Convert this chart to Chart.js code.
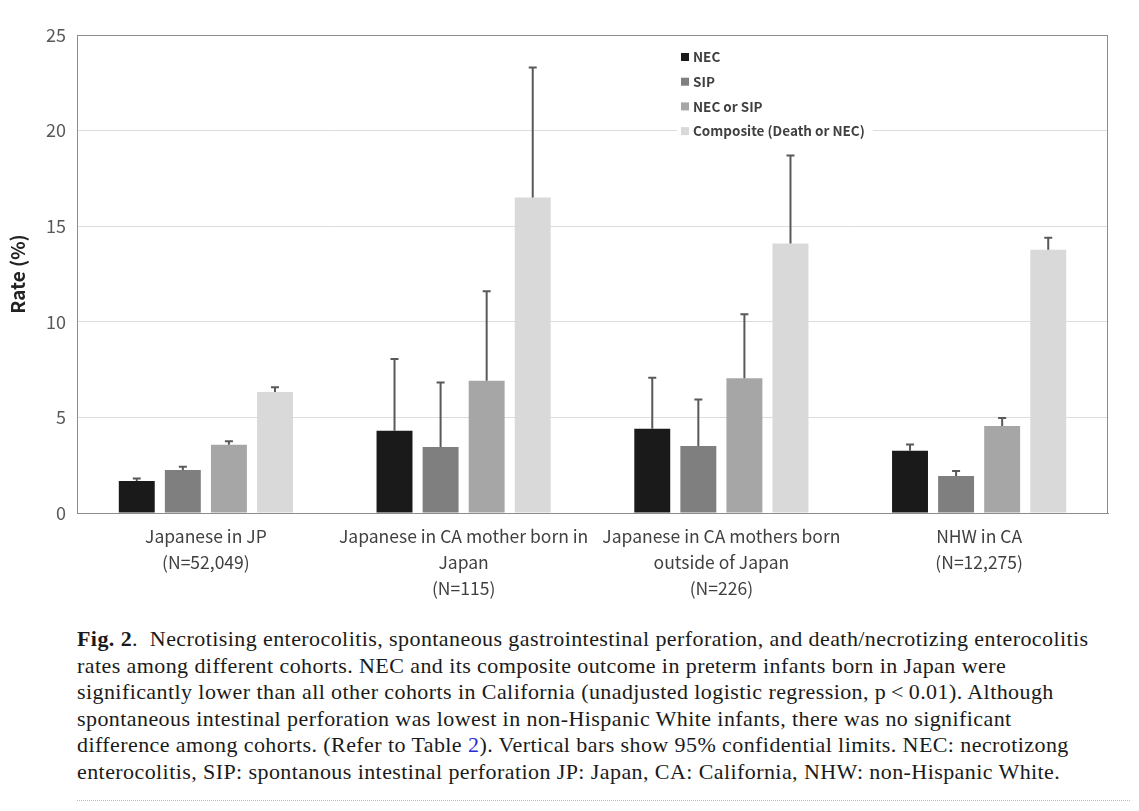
<!DOCTYPE html>
<html>
<head>
<meta charset="utf-8">
<script src="https://cdn.jsdelivr.net/npm/chart.js@4"></script>
<style>
  body { margin: 0; background: #fff; }
  #wrap { position: relative; width: 1139px; height: 612px; }
  #caption {
    position: absolute; left: 77px; top: 626px;
    font-family: "Liberation Serif", serif; font-size: 22px; line-height: 26.6px;
    letter-spacing: 0.42px;
    color: #1a1a1a; white-space: nowrap;
  }
  #caption a { color: #2b2bd6; text-decoration: none; }
  #dots {
    position: absolute; left: 77px; top: 800px; width: 1053px;
    border-top: 1px dotted #bbb;
  }
</style>
</head>
<body>
<div id="wrap"><canvas id="rateChart"></canvas></div>
<div id="caption">
<b>Fig. 2</b>.&nbsp; Necrotising enterocolitis, spontaneous gastrointestinal perforation, and death/necrotizing enterocolitis<br>
rates among different cohorts. NEC and its composite outcome in preterm infants born in Japan were<br>
significantly lower than all other cohorts in California (unadjusted logistic regression, p&thinsp;&lt;&thinsp;0.01). Although<br>
spontaneous intestinal perforation was lowest in non-Hispanic White infants, there was no significant<br>
difference among cohorts. (Refer to Table <a>2</a>). Vertical bars show 95% confidential limits. NEC: necrotizong<br>
enterocolitis, SIP: spontanous intestinal perforation JP: Japan, CA: California, NHW: non-Hispanic White.
</div>
<div id="dots"></div>
<script>
const categories = [
  ["Japanese in JP", "(N=52,049)"],
  ["Japanese in CA mother born in", "Japan", "(N=115)"],
  ["Japanese in CA mothers born", "outside of Japan", "(N=226)"],
  ["NHW in CA", "(N=12,275)"]
];
const seriesNames = ["NEC", "SIP", "NEC or SIP", "Composite (Death or NEC)"];
const seriesColors = ["#1a1a1a", "#7f7f7f", "#a6a6a6", "#d9d9d9"];

const necRate = [1.67, 4.3, 4.4, 3.25];
const sipRate = [2.25, 3.45, 3.5, 1.93];
const necOrSipRate = [3.57, 6.92, 7.05, 4.55];
const compositeRate = [6.33, 16.5, 14.1, 13.77];

const necUpper = [1.8, 8.05, 7.08, 3.58];
const sipUpper = [2.42, 6.82, 5.94, 2.2];
const necOrSipUpper = [3.75, 11.6, 10.4, 4.97];
const compositeUpper = [6.58, 23.3, 18.7, 14.4];

const yTicks = [0, 5, 10, 15, 20, 25];

const rates = [necRate, sipRate, necOrSipRate, compositeRate];
const uppers = [necUpper, sipUpper, necOrSipUpper, compositeUpper];

const errorBars = {
  id: "errorBars",
  afterDatasetsDraw(chart){
    const ctx = chart.ctx;
    const y = chart.scales.y;
    ctx.save();
    ctx.strokeStyle = "#595959";
    ctx.lineWidth = 2;
    chart.data.datasets.forEach((ds, di) => {
      const meta = chart.getDatasetMeta(di);
      meta.data.forEach((bar, i) => {
        const top = y.getPixelForValue(ds.upper[i]);
        ctx.beginPath();
        ctx.moveTo(bar.x, bar.y);
        ctx.lineTo(bar.x, top);
        ctx.moveTo(bar.x - 4, top);
        ctx.lineTo(bar.x + 4, top);
        ctx.stroke();
      });
    });
    ctx.restore();
  }
};

const frame = {
  id: "frame",
  beforeDatasetsDraw(chart){
    const a = chart.chartArea;
    const ctx = chart.ctx;
    ctx.save();
    ctx.strokeStyle = "#8c8c8c";
    ctx.lineWidth = 1;
    ctx.strokeRect(a.left + 0.5, a.top + 0.5, a.right - a.left - 1, a.bottom - a.top);
    ctx.restore();
  }
};

const boxLegend = {
  id: "boxLegend",
  afterDraw(chart){
    const ctx = chart.ctx;
    const a = chart.chartArea;
    const x0 = a.left + 604;
    let yy = a.top + 22;
    ctx.save();
    ctx.font = "bold 13.5px 'Noto Sans CJK JP', 'Noto Sans', sans-serif";
    ctx.textBaseline = "middle";
    chart.data.datasets.forEach(ds => {
      const w = ctx.measureText(ds.label).width;
      ctx.fillStyle = "#fff";
      ctx.fillRect(x0 - 4, yy - 9, w + 24, 18);
      ctx.fillStyle = ds.backgroundColor;
      ctx.fillRect(x0, yy - 4, 8, 8);
      ctx.fillStyle = "#404040";
      ctx.fillText(ds.label, x0 + 12, yy);
      yy += 24.7;
    });
    ctx.restore();
  }
};

new Chart(document.getElementById("rateChart"), {
  type: "bar",
  data: {
    labels: categories,
    datasets: seriesNames.map((name, i) => ({
      label: name,
      data: rates[i],
      upper: uppers[i],
      backgroundColor: seriesColors[i],
      categoryPercentage: 0.715,
      barPercentage: 0.78
    }))
  },
  options: {
    responsive: true,
    maintainAspectRatio: false,
    animation: false,
    layout: { padding: { top: 35, right: 31, left: 0, bottom: 0 } },
    scales: {
      x: {
        grid: { display: false },
        border: { color: "#8c8c8c" },
        ticks: {
          color: "#404040",
          padding: 2,
          maxRotation: 0,
          font: { family: "'Noto Sans CJK JP', 'Noto Sans', sans-serif", size: 17.5, lineHeight: 1.5 }
        },
        afterFit(scale){ scale.height = 99; }
      },
      y: {
        min: 0,
        max: 25,
        afterBuildTicks(scale){ scale.ticks = yTicks.map(v => ({ value: v })); },
        grid: { color: "#dcdcdc", drawTicks: false },
        border: { color: "#8c8c8c" },
        ticks: {
          color: "#595959",
          padding: 11,
          font: { family: "'Noto Sans CJK JP', 'Noto Sans', sans-serif", size: 18 }
        },
        title: {
          display: true,
          text: "Rate (%)",
          color: "#222",
          padding: { top: 6, bottom: 0 },
          font: { family: "'Noto Sans CJK JP', 'Noto Sans', sans-serif", size: 19, weight: "bold" }
        },
        afterFit(scale){ scale.width = 77; }
      }
    },
    plugins: {
      legend: { display: false },
      tooltip: { enabled: false }
    }
  },
  plugins: [frame, errorBars, boxLegend]
});
</script>
</body>
</html>
